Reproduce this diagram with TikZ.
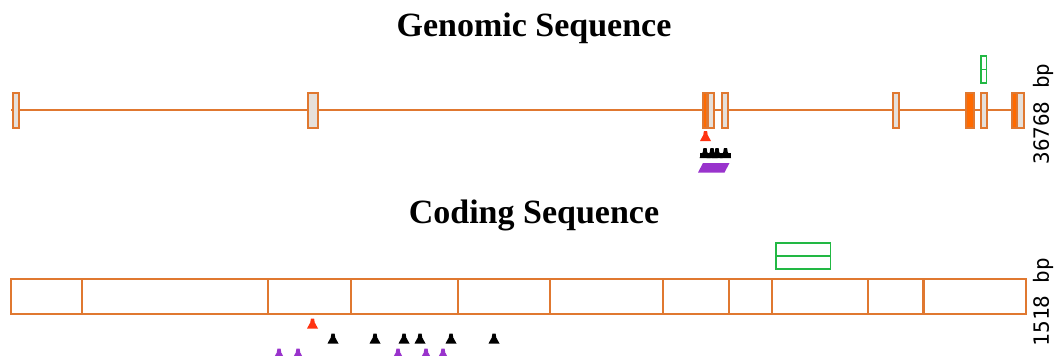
\documentclass[tikz,border=0pt]{standalone}
\usepackage{fontspec}
\setmainfont{Liberation Serif}
\newfontfamily\monofont{DejaVu Sans Mono}
\definecolor{ora}{HTML}{E07830}
\definecolor{orafill}{HTML}{FF6A00}
\definecolor{exin}{HTML}{E6E0DA}
\definecolor{grn}{HTML}{22B844}
\definecolor{mred}{HTML}{FF3311}
\definecolor{mpur}{HTML}{9933CC}
\tikzset{
  title/.style={font=\fontsize{34}{40}\selectfont\bfseries, anchor=base, inner sep=0},
  lenlabel/.style={font=\monofont\fontsize{21}{24}\selectfont, rotate=90, inner sep=0},
  exon/.style={draw=ora, line width=1.8pt, fill=exin},
  fexon/.style={draw=ora, line width=1.8pt, fill=orafill},
  cds/.style={draw=ora, line width=2.6pt, fill=white},
  cdsdiv/.style={draw=ora, line width=2.6pt},
  gbox/.style={draw=grn, line width=1.8pt, fill=white},
  mk/.pic={\fill (-5.5,0) -- (5.5,0) -- (2.2,-6) -- (1.6,-10) -- (-1.6,-10) -- (-2.2,-6) -- cycle;}
}
\begin{document}
\begin{tikzpicture}[x=1pt,y=-1pt]
\useasboundingbox (0,0) rectangle (1055,356);
\clip (0,0) rectangle (1055,356);
% titles
\node[title] (gt) at (534,36) {Genomic Sequence};
\node[title] (ct) at (534,223.5) {Coding Sequence};
% genomic
\draw[ora, line width=2.8pt] (11,110) -- (1025,110);
\foreach \a/\b in {13/19, 308/318, 708/714, 722/728, 893/899, 981/987, 1017.5/1024}
  \draw[exon] (\a,93) rectangle (\b,128);
\foreach \a/\b in {703/707, 966/974, 1012/1016.5}
  \draw[fexon] (\a,93) rectangle (\b,128);
\draw[gbox] (981,56) rectangle (986.5,83);
\draw[grn, line width=1.2pt] (981,69.5) -- (986.5,69.5);
\node[lenlabel] (gl) at (1043,114) {36768 bp};
% genomic markers
\pic[mred] at (705.5,141) {mk};
\foreach \x in {705,712,717,725.5} \pic[black] at (\x,158) {mk};
\fill[black] (700,158) rectangle (731,153);
\fill[mpur] (698,172.5) -- (724.5,172.5) -- (729.5,163) -- (703,163) -- cycle;
% coding
\draw[cds] (11,279) rectangle (1026,314);
\foreach \x in {82,268,351,458,550,663,729,772,868,923.5}
  \draw[cdsdiv] (\x,279) -- (\x,314);
\draw[gbox] (776,243) rectangle (830.5,269);
\draw[grn, line width=1.8pt] (776,256) -- (830.5,256);
\node[lenlabel] (cl) at (1043,302) {1518 bp};
% coding markers
\pic[mred] at (312.5,328.5) {mk};
\foreach \x in {333,375,404,420,451,494} \pic[black] at (\x,343.5) {mk};
\foreach \x in {279,298,398,426,443} \pic[mpur] at (\x,358.5) {mk};
\end{tikzpicture}
\end{document}
